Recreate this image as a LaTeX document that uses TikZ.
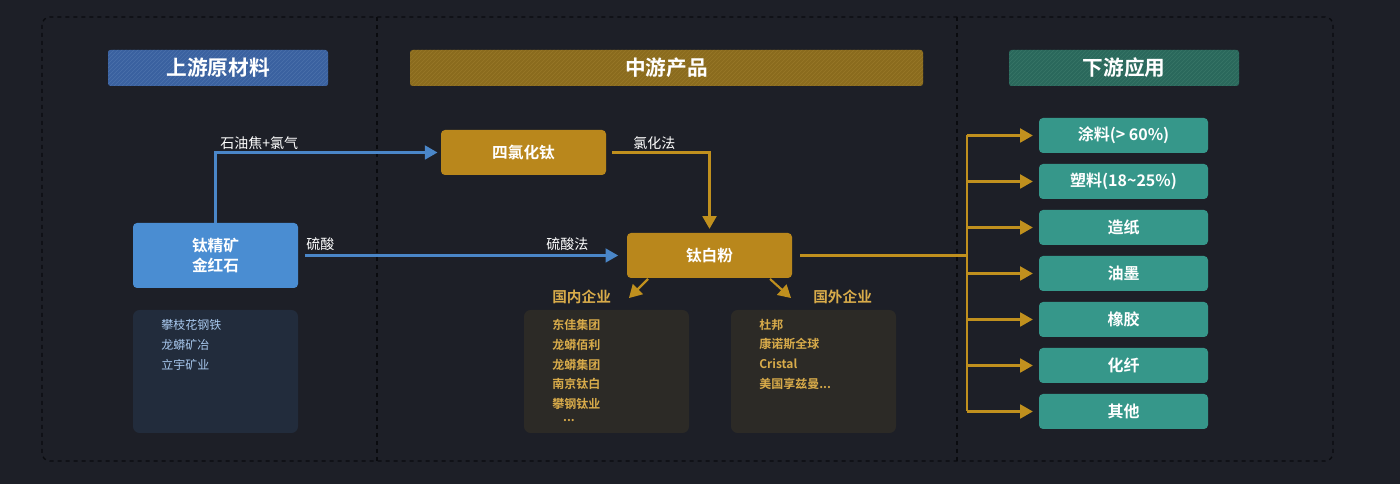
\documentclass[tikz,border=0pt]{standalone}
\usepackage{fontspec}
\setmainfont{Noto Sans CJK SC}[BoldFont={Noto Sans CJK SC Bold}]
\usepackage{tikz}
\usetikzlibrary{arrows,shapes,positioning,patterns}

\definecolor{bgc}{RGB}{29,31,39}
\definecolor{framec}{RGB}{10,11,15}
\definecolor{hblue}{RGB}{58,97,160}
\definecolor{hbluel}{RGB}{76,113,172}
\definecolor{hgold}{RGB}{138,107,30}
\definecolor{hgoldl}{RGB}{152,120,40}
\definecolor{hteal}{RGB}{42,104,92}
\definecolor{hteall}{RGB}{56,118,104}
\definecolor{boxblue}{RGB}{74,141,210}
\definecolor{boxgold}{RGB}{185,135,28}
\definecolor{boxteal}{RGB}{54,151,138}
\definecolor{listblue}{RGB}{34,44,60}
\definecolor{listgold}{RGB}{44,42,38}
\definecolor{txtblue}{RGB}{168,200,238}
\definecolor{txtgold}{RGB}{216,171,74}
\definecolor{lnblue}{RGB}{74,134,200}
\definecolor{lngold}{RGB}{192,144,30}

\tikzset{
  head/.style={rectangle, rounded corners=2pt, minimum width=#1, minimum height=27pt,
    text=white, font=\bfseries\fontsize{15.5}{17}\selectfont, inner sep=0pt},
  mainbox/.style={rectangle, rounded corners=3pt, minimum width=123.75pt,
    text=white, font=\bfseries\fontsize{11.75}{15}\selectfont, align=center, inner sep=0pt},
  listbox/.style={rectangle, rounded corners=5pt, minimum width=123.75pt, minimum height=92.25pt},
  usebox/.style={rectangle, rounded corners=3pt, fill=boxteal, minimum width=126.75pt,
    minimum height=26.25pt, text=white, font=\bfseries\fontsize{12}{14}\selectfont, inner sep=0pt},
  lab/.style={text=white, font=\fontsize{10.5}{12}\selectfont, inner sep=0pt, anchor=west},
  item/.style={font=\bfseries\fontsize{9}{10}\selectfont, inner sep=0pt, anchor=west},
  barrow/.style={draw=lnblue, line width=1.6pt, -triangle 60},
  garrow/.style={draw=lngold, line width=1.6pt, -triangle 60}
}

\begin{document}
\begin{tikzpicture}[x=0.75pt, y=-0.75pt]
%background and frame
    \fill[bgc] (0,0) rectangle (1400,484);
    \useasboundingbox (0,0) rectangle (1400,484);
    \draw[framec, line width=1pt, dashed, rounded corners=6pt] (42,17) rectangle (1333,461);
    \draw[framec, line width=1pt, dashed] (377,17) -- (377,461);
    \draw[framec, line width=1pt, dashed] (957,17) -- (957,461);
%draw headers
    \node[head=165pt, fill=hblue, postaction={pattern=north east lines, pattern color=hbluel}] (h1) at (218,68) {上游原材料};
    \node[head=384.75pt, fill=hgold, postaction={pattern=north east lines, pattern color=hgoldl}] (h2) at (666.5,68) {中游产品};
    \node[head=172.5pt, fill=hteal, postaction={pattern=north east lines, pattern color=hteall}] (h3) at (1124,68) {下游应用};
%draw main boxes
    \node[mainbox, fill=boxblue, minimum height=48.75pt] (tjk) at (215.5,255.5) {钛精矿\\金红石};
    \node[mainbox, fill=boxgold, minimum height=33.75pt] (sicl) at (523.5,152.5) {四氯化钛};
    \node[mainbox, fill=boxgold, minimum height=33.75pt] (tbf) at (709.5,255.5) {钛白粉};
%draw list boxes
    \node[listbox, fill=listblue] (upl) at (215.5,371.5) {};
    \node[listbox, fill=listgold] (doml) at (606.5,371.5) {};
    \node[listbox, fill=listgold] (forl) at (813.5,371.5) {};
%insert list items
    \foreach \t [count=\i] in {攀枝花钢铁,龙蟒矿冶,立宇矿业}
       \node[item, text=txtblue, font=\fontsize{9}{10}\selectfont] (up\i) at (161,305+20*\i) {\t};
    \foreach \t/\y [count=\i] in {东佳集团/325,龙蟒佰利/345,龙蟒集团/365,南京钛白/384,攀钢钛业/404}
       \node[item, text=txtgold] (dom\i) at (552,\y) {\t};
    \node[item, text=txtgold, anchor=center] (dom6) at (569,421) {...};
    \foreach \t/\y [count=\i] in {杜邦/325,康诺斯全球/344,Cristal/364}
       \node[item, text=txtgold] (for\i) at (759,\y) {\t};
    \node[item, text=txtgold] (for4) at (759,384) {美国享兹曼...};
%insert edge labels
    \node[lab] (l1) at (220,143) {石油焦+氯气};
    \node[lab] (l2) at (306,244) {硫酸};
    \node[lab] (l3) at (546,244) {硫酸法};
    \node[lab] (l4) at (633,143) {氯化法};
    \node[item, text=txtgold, font=\bfseries\fontsize{11}{12}\selectfont] (domh) at (552,297) {国内企业};
    \node[item, text=txtgold, font=\bfseries\fontsize{11}{12}\selectfont] (forh) at (813,297) {国外企业};
%draw use boxes
    \foreach \t/\y [count=\i] in {涂料(> 60\%)/135.5,塑料(18\char`\~25\%)/181.5,造纸/227.5,油墨/273.5,橡胶/319.5,化纤/365.5,其他/411.5}
       \node[usebox] (r\i) at (1123.5,\y) {\t};
%draw directed edges
    \coordinate (hub) at (967,255.5);
    \coordinate (dtip) at (629,298);
    \coordinate (dtail) at (648,279);
    \coordinate (ftip) at (791,298);
    \coordinate (ftail) at (770,279);
    \draw[barrow, shorten >=2.5pt] (tjk.north) |- (sicl.west);
    \draw[barrow, shorten <=5pt, shorten >=6.5pt] (tjk.east) -- (tbf.west);
    \draw[garrow, shorten <=4.5pt, shorten >=3pt] (sicl.east) -| (tbf.north);
    \draw[garrow] (dtail) -- (dtip);
    \draw[garrow] (ftail) -- (ftip);
    \draw[lngold, line width=1.6pt, shorten <=6pt] (tbf.east) -- (hub);
    \draw[lngold, line width=1.6pt] (hub |- r1.west) -- (hub |- r7.west);
    \foreach \i in {1,...,7}
       \draw[garrow, shorten >=4.5pt] (hub |- r\i.west) -- (r\i.west);
\end{tikzpicture}
\end{document}
